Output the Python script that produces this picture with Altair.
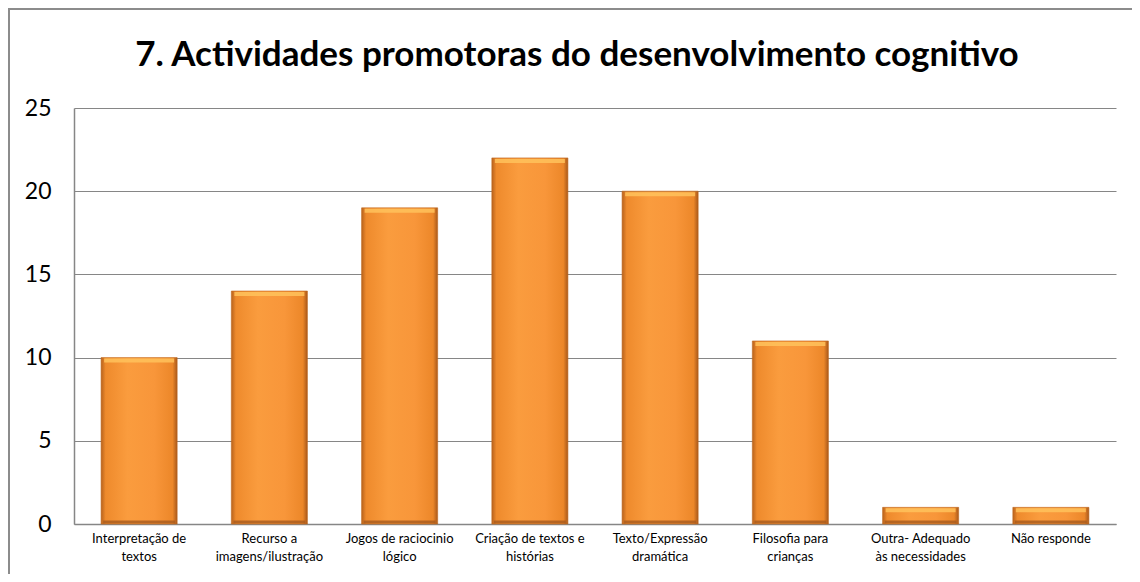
import altair as alt
import pandas as pd

categories = [
    "Interpretação de|textos",
    "Recurso a|imagens/ilustração",
    "Jogos de raciocinio|lógico",
    "Criação de textos e|histórias",
    "Texto/Expressão|dramática",
    "Filosofia para|crianças",
    "Outra- Adequado|às necessidades",
    "Não responde",
]
values = [10, 14, 19, 22, 20, 11, 1, 1]
y_ticks = [0, 5, 10, 15, 20, 25]
title_text = "7. Actividades promotoras do  desenvolvimento cognitivo"

df = pd.DataFrame({"categoria": categories, "valor": values})

W, H = 1042, 416

gradient = alt.LinearGradient(
    gradient="linear", x1=0, x2=1, y1=0, y2=0,
    stops=[
        alt.GradientStop(color="#B8621C", offset=0),
        alt.GradientStop(color="#EE8A2C", offset=0.06),
        alt.GradientStop(color="#FA9C3E", offset=0.35),
        alt.GradientStop(color="#F8963A", offset=0.7),
        alt.GradientStop(color="#EC8729", offset=0.94),
        alt.GradientStop(color="#A8581A", offset=1),
    ],
)

x_enc = alt.X(
    "categoria:N", sort=categories,
    scale=alt.Scale(paddingInner=0.416, paddingOuter=0.208),
    axis=alt.Axis(
        title=None, labelAngle=0, labelExpr="split(datum.label, '|')",
        labelFont="Lato", labelFontSize=13, labelColor="#000000",
        labelLineHeight=18, labelPadding=8, ticks=False, grid=False,
        domainColor="#868686", domainWidth=1.5,
    ),
)
y_enc = alt.Y(
    "valor:Q",
    scale=alt.Scale(domain=[0, 25], nice=False),
    axis=alt.Axis(
        title=None, values=y_ticks, labelFont="Lato", labelFontSize=23,
        labelColor="#000000", labelPadding=23, ticks=False,
        grid=True, gridColor="#868686", gridWidth=1,
        domainColor="#868686", domainWidth=1.5,
    ),
)

bars = alt.Chart(df).mark_bar(fill=gradient, stroke="#C06A20", strokeWidth=0.6).encode(
    x=x_enc, y=y_enc
)

bevel_top = alt.Chart(df).mark_tick(
    color="#FFC25C", size=70, thickness=4, yOffset=3, opacity=0.85
).encode(x=alt.X("categoria:N", sort=categories), y="valor:Q")

bevel_bottom = alt.Chart(df).mark_tick(
    color="#A65A1E", size=72, thickness=3, yOffset=-2, opacity=0.8
).encode(x=alt.X("categoria:N", sort=categories), y=alt.datum(0))

frame_left = alt.Chart(df).mark_rule(color="#8C8C8C", strokeWidth=2).encode(
    x=alt.value(-65), x2=alt.value(-65), y=alt.value(-99), y2=alt.value(480)
)
frame_top = alt.Chart(df).mark_rule(color="#8C8C8C", strokeWidth=2).encode(
    x=alt.value(-66), x2=alt.value(1080), y=alt.value(-99), y2=alt.value(-99)
)

chart = alt.layer(bars, bevel_top, bevel_bottom, frame_left, frame_top).properties(
    width=W, height=H,
    title=alt.Title(
        title_text, font="Lato", fontSize=35, fontWeight="bold",
        color="#000000", anchor="middle", dx=-18, offset=-65,
    ),
    autosize=alt.AutoSizeParams(type="none"),
    padding={"left": 66, "top": 100, "right": 16, "bottom": 50},
    background="#FFFFFF",
).configure_view(strokeWidth=0, stroke="transparent")

chart.save("out.html", embed_options={"renderer": "svg", "actions": False})
